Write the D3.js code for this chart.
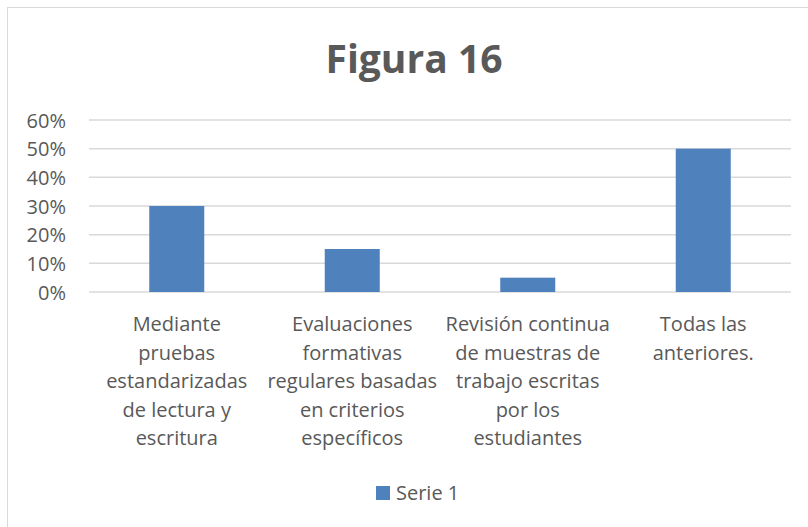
<!DOCTYPE html>
<html lang="es">
<head>
<meta charset="UTF-8">
<title>Figura 16</title>
<script src="https://d3js.org/d3.v7.min.js"></script>
<style>
  body { margin: 0; background: #fff; }
  text { font-family: "Open Sans", Lato, sans-serif; fill: #595959; }
  .grid line { stroke: #d9d9d9; stroke-width: 1.5px; }
  .axis-y text { font-size: 20px; }
  .cat text { font-size: 20px; }
</style>
</head>
<body>
<svg width="808" height="527"></svg>
<script>
// Data
const categories = [
  ["Mediante", "pruebas", "estandarizadas", "de lectura y", "escritura"],
  ["Evaluaciones", "formativas", "regulares basadas", "en criterios", "específicos"],
  ["Revisión continua", "de muestras de", "trabajo escritas", "por los", "estudiantes"],
  ["Todas las", "anteriores."]
];
const values = [0.30, 0.15, 0.05, 0.50];
const yTicks = [0, 0.1, 0.2, 0.3, 0.4, 0.5, 0.6];
const seriesName = "Serie 1";
const title = "Figura 16";

const svg = d3.select("svg");
const margin = { left: 89, right: 17, top: 120, bottom: 235 };
const width = 808 - margin.left - margin.right;
const height = 527 - margin.top - margin.bottom;
const color = "#4f81bd";

// chart border
svg.append("rect")
  .attr("x", 7.5).attr("y", 7.5)
  .attr("width", 820).attr("height", 540)
  .attr("fill", "none").attr("stroke", "#d9d9d9").attr("stroke-width", 1);

svg.append("text")
  .attr("x", 414).attr("y", 73)
  .attr("text-anchor", "middle")
  .style("font-size", "39px").style("font-weight", "bold")
  .text(title);

const g = svg.append("g").attr("transform", `translate(${margin.left},${margin.top})`);

const x = d3.scaleBand().domain(d3.range(categories.length)).range([0, width]);
const y = d3.scaleLinear().domain([0, 0.6]).range([height, 0]);
const barW = x.step() / 3.19;

// gridlines
g.append("g").attr("class", "grid")
  .selectAll("line").data(yTicks).join("line")
  .attr("x1", 0).attr("x2", width)
  .attr("y1", d => y(d)).attr("y2", d => y(d));

// y axis labels
g.append("g").attr("class", "axis-y")
  .call(d3.axisLeft(y).tickValues(yTicks).tickFormat(d3.format(".0%")).tickSize(0).tickPadding(23))
  .call(a => a.select(".domain").remove())
  .selectAll("text").attr("fill", "#595959").attr("dy", "0.36em");

// bars
g.selectAll(".bar").data(values).join("rect")
  .attr("class", "bar")
  .attr("x", (d, i) => x(i) + x.bandwidth() / 2 - barW / 2)
  .attr("width", barW)
  .attr("y", d => y(d))
  .attr("height", d => y(0) - y(d))
  .attr("fill", color);

// category labels
const cat = g.append("g").attr("class", "cat");
categories.forEach((lines, i) => {
  const t = cat.append("text")
    .attr("x", x(i) + x.bandwidth() / 2)
    .attr("y", height + 39)
    .attr("text-anchor", "middle");
  lines.forEach((l, j) => {
    t.append("tspan").attr("x", x(i) + x.bandwidth() / 2).attr("dy", j ? 28.5 : 0).text(l);
  });
});

// legend
const lg = svg.append("g").attr("transform", "translate(376,486)");
lg.append("rect").attr("width", 14).attr("height", 14).attr("fill", color);
lg.append("text").attr("x", 20).attr("y", 14).style("font-size", "20px").text(seriesName);
</script>
</body>
</html>
